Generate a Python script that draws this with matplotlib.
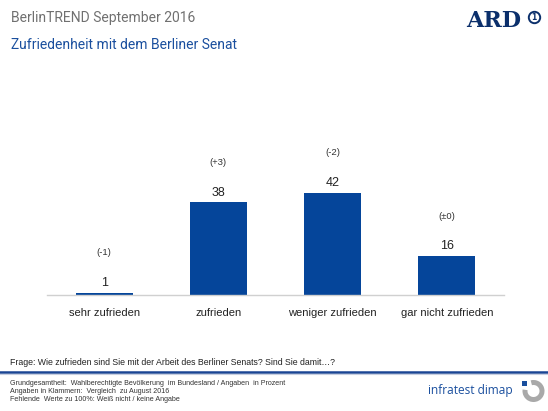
import matplotlib
matplotlib.use("Agg")
import matplotlib.pyplot as plt
from matplotlib.patches import Rectangle, Wedge
from matplotlib.lines import Line2D

categories = ["sehr zufrieden", "zufrieden", "weniger zufrieden", "gar nicht zufrieden"]
values = [1, 38, 42, 16]
changes = ["(-1)", "(+3)", "(-2)", "(\u00b10)"]

title = "BerlinTREND September 2016"
subtitle = "Zufriedenheit mit dem Berliner Senat"
question = "Frage: Wie zufrieden sind Sie mit der Arbeit des Berliner Senats? Sind Sie damit\u2026?"
footnotes = ["Grundgesamtheit:  Wahlberechtigte Bev\u00f6lkerung  im Bundesland / Angaben  in Prozent",
             "Angaben in Klammern:  Vergleich  zu August 2016",
             "Fehlende  Werte zu 100%: Wei\u00df nicht / keine Angabe"]

W, H = 548, 411
BLUE = "#05459a"
fig = plt.figure(figsize=(W / 100, H / 100), dpi=100)
fig.patch.set_facecolor("white")

def fx(px):
    return px / W

def fy(py):
    return 1 - py / H

ax = fig.add_axes([fx(47), fy(295), fx(504) - fx(47), fy(140) - fy(295)])
x = list(range(len(categories)))
ax.bar(x, values, width=0.5, color=BLUE, zorder=2)
ax.set_xlim(-0.5, 3.5)
ax.set_ylim(0, 155 / 2.44)
for s in ["top", "right", "left"]:
    ax.spines[s].set_visible(False)
ax.spines["bottom"].set_color("#d0d0d0")
ax.spines["bottom"].set_linewidth(1.0)
ax.set_yticks([])
ax.set_xticks(x)
ax.set_xticklabels(categories, fontsize=8, family="Liberation Sans", color="#222222")
ax.tick_params(axis="x", length=0, pad=9)
for xi, v, c in zip(x, values, changes):
    ax.annotate(str(v), (xi, v), xytext=(0, 2.5), textcoords="offset points",
                ha="center", va="bottom", fontsize=9, family="Liberation Sans", color="#222222")
    ax.annotate(c, (xi, v), xytext=(0, 25.5), textcoords="offset points",
                ha="center", va="bottom", fontsize=6.8, family="Liberation Sans", color="#333333")

# header
fig.text(fx(11), fy(18), title, fontsize=10, family="Roboto", color="#707070", va="center")
fig.text(fx(11), fy(45), subtitle, fontsize=10, family="Roboto", color="#1a4f9e", va="center")
fig.text(fx(466), fy(21), "ARD", fontsize=16, family="DejaVu Serif", weight="bold",
         color="#0b2f6b", va="center", ha="left")
fig.add_artist(Line2D([fx(534)], [fy(17)], transform=fig.transFigure, marker="o", markersize=8.2,
                      markerfacecolor="white", markeredgecolor="#0b2f6b", markeredgewidth=1.4, linestyle="none"))
fig.text(fx(534), fy(17), "1", fontsize=5.5, weight="bold", color="#0b2f6b",
         ha="center", va="center")

# footer
fig.text(fx(10), fy(362), question, fontsize=6.3, family="Liberation Sans", color="#222222", va="center")
fig.add_artist(Line2D([0, 1], [fy(372), fy(372)], transform=fig.transFigure, color="#1a4594", lw=1.8))
fig.add_artist(Line2D([0, 1], [fy(374), fy(374)], transform=fig.transFigure, color="#c8cfe0", lw=0.8))
for i, t in enumerate(footnotes):
    fig.text(fx(10), fy(383 + 8 * i), t, fontsize=5.1, family="Liberation Sans", color="#333333", va="center")
fig.text(fx(428), fy(390), "infratest dimap", fontsize=8.6, family="Open Sans", color="#1a4f9e", va="center")

lax = fig.add_axes([fx(520), fy(404), fx(27), fy(378) - fy(404)])
lax.set_xlim(-13.5, 13.5)
lax.set_ylim(-13, 13)
lax.set_aspect("equal")
lax.axis("off")
lax.add_patch(Wedge((0, 0), 11, 172, 465, width=5, facecolor="#a9a9a9", edgecolor="none"))
lax.add_patch(Rectangle((-12, 5), 5.5, 5.5, facecolor="#1a4f9e", edgecolor="none"))

fig.savefig("out.png", dpi=100, facecolor="white")
